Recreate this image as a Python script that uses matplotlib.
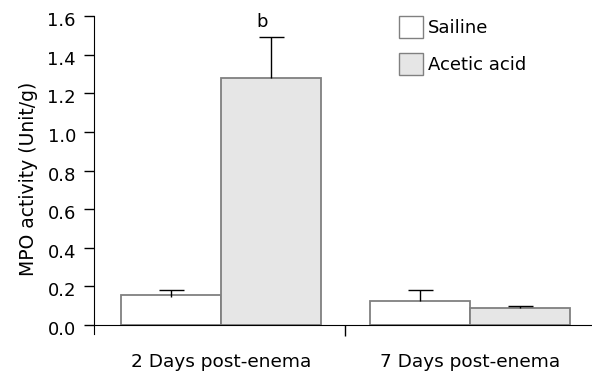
import matplotlib
matplotlib.use("Agg")
import matplotlib.pyplot as plt
import matplotlib.transforms as mtransforms
from matplotlib.patches import Patch
import numpy as np

groups = ["2 Days post-enema", "7 Days post-enema"]
series = ["Sailine", "Acetic acid"]
saline = [0.155, 0.125]
acetic = [1.28, 0.088]
saline_err_up = [0.027, 0.055]
saline_err_low = [0.012, 0.0]
acetic_err_up = [0.21, 0.012]
acetic_err_low = [0.0, 0.0]
yticks = [0.0, 0.2, 0.4, 0.6, 0.8, 1.0, 1.2, 1.4, 1.6]

plt.rcParams['font.family'] = ['DejaVu Sans']

fig = plt.figure(figsize=(5.92, 3.72), dpi=100)
ax = fig.add_axes([94/592, 38.3/372, 498/592, 317.7/372])

x = np.arange(len(groups))
w = 0.4
edge = "#808080"
ax.bar(x - w/2, saline, width=w, color="white", edgecolor=edge, linewidth=1.3, zorder=2)
ax.bar(x + w/2, acetic, width=w, color="#e6e6e6", edgecolor=edge, linewidth=1.3, zorder=2)
for xs, ys, lo, up in [(x - w/2, saline, saline_err_low, saline_err_up),
                       (x + w/2, acetic, acetic_err_low, acetic_err_up)]:
    eb = ax.errorbar(xs, ys, yerr=[lo, up], fmt="none", ecolor="black",
                     elinewidth=1.0, capsize=9, capthick=1.0, zorder=3)
    eb[1][0].set_visible(False)

ax.text(0.165, 1.545, "b", ha="center", va="baseline", fontsize=13)

ax.set_xlim(-0.51, 1.49)
ax.set_ylim(-0.045, 1.6)
ax.set_yticks(yticks)
ax.set_yticklabels([f"{v:.1f}" for v in yticks], fontsize=13)
ax.tick_params(axis="y", direction="out", length=7, width=1.0, pad=6)
off = mtransforms.ScaledTranslation(0, -3/100, fig.dpi_scale_trans)
for lbl in ax.get_yticklabels():
    lbl.set_transform(lbl.get_transform() + off)

ax.spines["top"].set_visible(False)
ax.spines["right"].set_visible(False)
ax.spines["bottom"].set_position(("data", 0))
ax.spines["bottom"].set_zorder(4)
ax.set_xticks([0.5])
ax.set_xticklabels([""])
ax.tick_params(axis="x", direction="out", length=8, width=1.0)
for xi, g in zip(x, groups):
    ax.text(xi, -0.215, g, ha="center", va="baseline", fontsize=13.3)

ax.set_ylabel("MPO activity (Unit/g)", fontsize=13.5)
ax.yaxis.set_label_coords(-0.112, 0.487)

handles = [Patch(facecolor="white", edgecolor=edge, linewidth=1.0),
           Patch(facecolor="#e6e6e6", edgecolor=edge, linewidth=1.0)]
leg = ax.legend(handles, series, loc="upper left", bbox_to_anchor=(0.605, 1.01),
                frameon=False, fontsize=13, handlelength=1.35, handleheight=1.45,
                handletextpad=0.25, labelspacing=0.85, borderaxespad=0, borderpad=0.2)

fig.savefig("out.png", dpi=100)
